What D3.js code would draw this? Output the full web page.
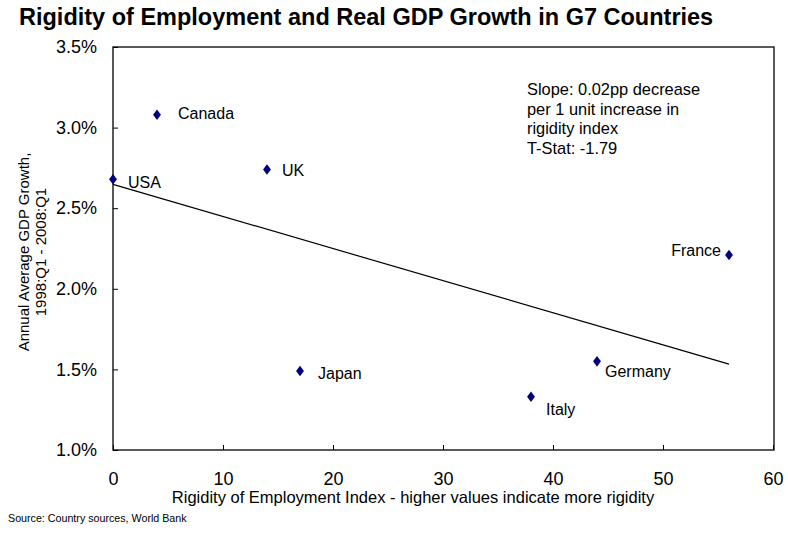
<!DOCTYPE html>
<html><head><meta charset="utf-8">
<script src="https://cdn.jsdelivr.net/npm/d3@7"></script>
<style>body{margin:0;background:#fff;}svg{display:block;font-family:Arial,"Liberation Sans",sans-serif;}</style>
</head><body>
<svg id="c" width="788" height="533"></svg>
<script>
const countries = ["USA","Canada","UK","Japan","Italy","Germany","France"];
const rigidity = [0,4,14,17,38,44,56];
const growth = [2.68,3.08,2.74,1.49,1.33,1.55,2.21];
const trendX = [0,56];
const trendY = [2.648,1.533];
const xTicks = [0,10,20,30,40,50,60];
const yTicks = [1.0,1.5,2.0,2.5,3.0,3.5];
// label offsets (px) relative to point
const labelDx = [15,21,15,18,15,8,-8];
const labelDy = [9,4,6,8,18,16,1];
const labelAnchor = ["start","start","start","start","start","start","end"];

const svg = d3.select("#c");
const m = {l:113, r:774, t:47, b:450};
const x = d3.scaleLinear().domain([0,60]).range([m.l, m.r-1]);
const y = d3.scaleLinear().domain([1.0,3.5]).range([m.b, m.t]);

svg.append("text").attr("x",19).attr("y",25).attr("font-size",23.5).attr("font-weight","bold")
  .text("Rigidity of Employment and Real GDP Growth in G7 Countries");

svg.append("rect").attr("x",m.l).attr("y",m.t).attr("width",m.r-m.l).attr("height",m.b-m.t)
  .attr("fill","none").attr("stroke","#000").attr("stroke-width",1.3);

const xa = svg.append("g").attr("transform",`translate(0,${m.b})`)
  .call(d3.axisBottom(x).tickValues(xTicks).tickSizeInner(-5).tickSizeOuter(0).tickPadding(22).tickFormat(d3.format("d")));
const ya = svg.append("g").attr("transform",`translate(${m.l},0)`)
  .call(d3.axisLeft(y).tickValues(yTicks).tickSizeInner(-5).tickSizeOuter(0).tickPadding(16).tickFormat(d=>d3.format(".1f")(d)+"%"));
[xa,ya].forEach(a=>{
  a.select(".domain").remove();
  a.selectAll("line").attr("stroke","#000");
  a.selectAll("text").attr("font-size",18).attr("font-family","Arial,'Liberation Sans',sans-serif").attr("fill","#000");
});

svg.append("line").attr("x1",x(trendX[0])).attr("y1",y(trendY[0])).attr("x2",x(trendX[1])).attr("y2",y(trendY[1]))
  .attr("stroke","#000").attr("stroke-width",1.2);

svg.selectAll("path.pt").data(countries).enter().append("path").attr("class","pt")
  .attr("d",d3.symbol(d3.symbolDiamond,40))
  .attr("transform",(d,i)=>`translate(${x(rigidity[i])},${y(growth[i])}) scale(1.15,0.9)`)
  .attr("fill","#000080");

svg.selectAll("text.lbl").data(countries).enter().append("text").attr("class","lbl")
  .attr("x",(d,i)=>x(rigidity[i])+labelDx[i]).attr("y",(d,i)=>y(growth[i])+labelDy[i])
  .attr("text-anchor",(d,i)=>labelAnchor[i]).attr("font-size",16).text(d=>d);

const note = ["Slope: 0.02pp decrease","per 1 unit increase in","rigidity index","T-Stat: -1.79"];
svg.append("g").selectAll("text").data(note).enter().append("text")
  .attr("x",527).attr("y",(d,i)=>95+i*19.5).attr("font-size",16.4).text(d=>d);

svg.append("text").attr("x",413).attr("y",503).attr("text-anchor","middle").attr("font-size",16.5)
  .text("Rigidity of Employment Index - higher values indicate more rigidity");

const yt = svg.append("text").attr("transform",`translate(0,252) rotate(-90)`).attr("text-anchor","middle").attr("font-size",15);
yt.append("tspan").attr("x",0).attr("y",29).text("Annual Average GDP Growth,");
yt.append("tspan").attr("x",0).attr("y",46).text("1998:Q1 - 2008:Q1");

svg.append("text").attr("x",8).attr("y",522).attr("font-size",10.7).text("Source: Country sources, World Bank");
</script>
</body></html>
